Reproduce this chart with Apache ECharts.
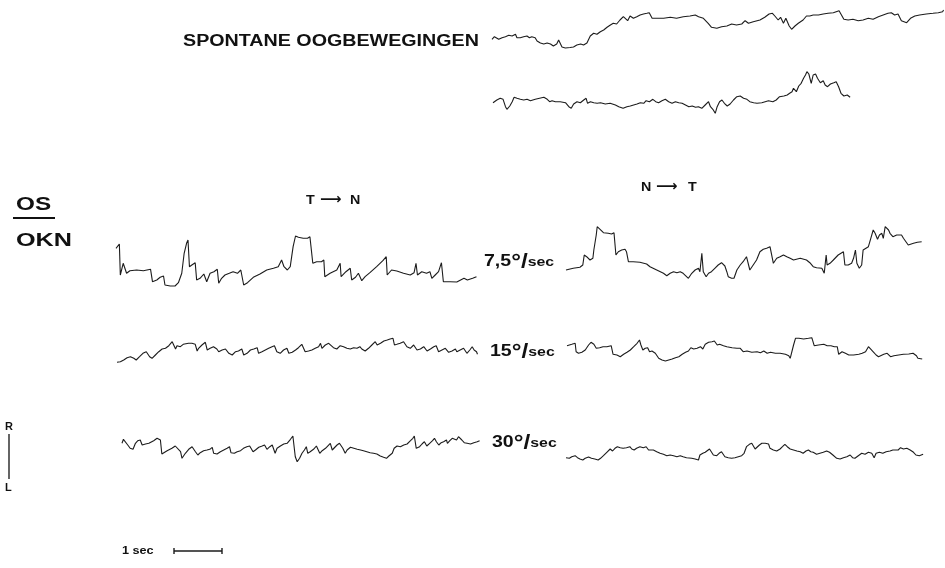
<!DOCTYPE html>
<html><head><meta charset="utf-8">
<script src="https://cdn.jsdelivr.net/npm/echarts@6/dist/echarts.min.js"></script>
<style>html,body{margin:0;padding:0;background:#fff}#c{width:945px;height:568px}</style>
</head><body><div id="c"></div>
<script>
// time in seconds, deflection in arbitrary units (up = R)
const SPONTAAN_1 = [[0,10.7],[0.05,13.3],[0.09,11.3],[0.14,10.7],[0.21,12.3],[0.28,13.3],[0.35,14.7],[0.42,14],[0.49,15.7],[0.52,12.3],[0.59,12.3],[0.66,13.3],[0.73,14],[0.78,12.3],[0.83,13.3],[0.9,12.3],[0.94,9],[1.01,7],[1.08,6],[1.15,7],[1.22,6],[1.28,4],[1.35,6],[1.39,10],[1.42,7],[1.46,3],[1.53,2],[1.63,2.5],[1.7,3],[1.77,5],[1.81,3],[1.85,6],[1.91,5],[1.98,7],[2.05,14],[2.12,16.7],[2.19,15.7],[2.26,18.3],[2.33,20],[2.4,22.7],[2.47,25],[2.53,26.7],[2.6,26],[2.67,30],[2.74,33.3],[2.78,31.7],[2.83,29.3],[2.88,34],[2.95,31.7],[3.02,33.3],[3.09,35],[3.16,36],[3.23,36.7],[3.28,37.3],[3.31,38.3],[3.34,31.7],[3.44,31.7],[3.58,31.7],[3.72,32.7],[3.85,31.7],[3.99,33.3],[4.13,34],[4.24,35],[4.31,33.3],[4.41,31.7],[4.51,26.7],[4.58,22.7],[4.69,21.7],[4.79,23.3],[4.9,24],[5.0,26],[5.1,25],[5.21,26],[5.28,29.3],[5.35,26.7],[5.45,28.3],[5.59,30],[5.69,32.7],[5.78,36],[5.85,36.7],[5.9,34],[5.97,30],[6.02,32.7],[6.08,26.7],[6.13,31.7],[6.2,24],[6.25,20.7],[6.32,24],[6.39,26.7],[6.49,30],[6.56,34],[6.63,34],[6.7,35],[6.81,35],[6.91,36],[7.01,36.7],[7.12,37.3],[7.24,39.3],[7.29,35],[7.34,30.7],[7.43,30],[7.53,30.7],[7.64,29.3],[7.74,30],[7.85,31.7],[7.95,30.7],[8.06,33.3],[8.16,35],[8.26,36.7],[8.33,37.3],[8.4,35],[8.47,36],[8.54,29.3],[8.65,27.3],[8.73,31.7],[8.82,34],[8.92,35],[9.06,36],[9.2,36.7],[9.31,37.3],[9.4,38.3],[9.42,40]];
const SPONTAAN_2 = [[0,17.3],[0.08,20],[0.15,21.7],[0.21,20.7],[0.26,13.3],[0.29,10.7],[0.35,14],[0.4,18.3],[0.44,22.7],[0.5,21.7],[0.57,20.7],[0.64,20],[0.71,20.7],[0.78,19.3],[0.88,20.7],[0.97,21.7],[1.06,22.7],[1.13,20.7],[1.18,18.3],[1.23,19.3],[1.3,18.3],[1.4,18.3],[1.51,17.3],[1.58,13.3],[1.63,11.7],[1.68,16],[1.75,18.3],[1.82,17.3],[1.89,20],[1.94,21.7],[1.97,16.7],[2.03,18.3],[2.1,17.3],[2.17,16.7],[2.24,17.3],[2.34,16],[2.44,16.7],[2.55,15],[2.62,13.3],[2.71,11.7],[2.79,13.3],[2.86,14],[2.93,15],[3.0,16],[3.07,17.3],[3.14,16.7],[3.19,19.3],[3.26,18.3],[3.33,20.7],[3.36,22.7],[3.39,18.3],[3.45,17.3],[3.52,19.3],[3.59,20.7],[3.66,18.3],[3.73,16.7],[3.8,18.3],[3.87,17.3],[3.94,16.7],[4.01,15],[4.08,13.3],[4.15,14],[4.22,12.7],[4.28,13.3],[4.35,11.7],[4.42,15],[4.49,18.3],[4.53,13.3],[4.58,10.7],[4.63,6.7],[4.67,13.3],[4.72,18.3],[4.77,20],[4.82,16.7],[4.88,14],[4.94,16],[5.01,20],[5.08,23.3],[5.15,24],[5.22,21.7],[5.29,20.7],[5.35,18.3],[5.43,17.3],[5.5,16.7],[5.6,17.3],[5.67,18.3],[5.74,19.3],[5.83,18.3],[5.9,20],[5.97,23.3],[6.06,24],[6.13,25],[6.18,26.7],[6.23,28.3],[6.26,31.7],[6.32,28.3],[6.37,34],[6.42,36.7],[6.47,41.7],[6.51,45],[6.54,48.3],[6.58,46],[6.63,36.7],[6.67,45],[6.72,46],[6.76,41.7],[6.82,37.3],[6.88,39.3],[6.92,35],[6.97,33.3],[7.03,36],[7.1,37.3],[7.15,38.3],[7.2,33.3],[7.25,26.7],[7.31,24],[7.38,25],[7.44,22.7]];
const TN_7_5 = [[0,41.7],[0.07,46],[0.09,15],[0.15,26.7],[0.22,16.7],[0.29,19.3],[0.43,20],[0.57,19.3],[0.72,20.7],[0.76,8.3],[0.85,10],[0.92,12.7],[0.99,14],[1.02,5],[1.13,4],[1.23,4],[1.3,7.3],[1.37,16.7],[1.42,36.7],[1.47,46.7],[1.5,50],[1.53,23.3],[1.58,25],[1.65,27.3],[1.68,10],[1.75,11.7],[1.83,16],[1.89,8.3],[1.96,16.7],[2.04,18.3],[2.11,20.7],[2.14,6.7],[2.2,11.7],[2.27,15],[2.36,16.7],[2.44,18.3],[2.53,16.7],[2.6,20],[2.63,19],[2.66,5],[2.74,7.3],[2.86,12.7],[3.0,16],[3.14,20],[3.28,21.7],[3.38,23.3],[3.45,30],[3.5,23.3],[3.57,20],[3.63,23.3],[3.66,33.3],[3.69,43.3],[3.74,54],[3.8,52.7],[3.9,51.7],[3.99,51.7],[4.04,53.3],[4.08,51.7],[4.1,26.7],[4.18,28.3],[4.28,28.3],[4.33,30],[4.35,13.3],[4.46,16.7],[4.6,20],[4.67,26.7],[4.69,13.3],[4.79,18.3],[4.88,21.7],[4.91,10],[4.99,12.7],[5.05,16.7],[5.08,18.3],[5.12,9.3],[5.19,13.3],[5.29,17.3],[5.43,23.3],[5.56,29.3],[5.63,33.3],[5.65,15],[5.74,20],[5.85,19],[5.99,16.7],[6.13,15],[6.21,17.3],[6.25,26.7],[6.28,15],[6.37,18.3],[6.47,16.7],[6.54,18.3],[6.58,11.7],[6.65,15],[6.72,18.3],[6.78,27.3],[6.82,8.3],[6.96,8.3],[7.1,8],[7.18,10],[7.25,11.7],[7.32,10],[7.43,11.7],[7.51,13.3]];
const NT_7_5 = [[0,20],[0.15,21.7],[0.29,22.7],[0.35,25],[0.38,35],[0.43,33.3],[0.5,30],[0.56,31.7],[0.58,40],[0.63,55],[0.65,63.3],[0.71,60.7],[0.78,57.3],[0.88,56.7],[0.95,56],[1.0,57.3],[1.04,35],[1.09,38.3],[1.16,40],[1.23,40.7],[1.26,38.3],[1.3,28.3],[1.4,28.3],[1.54,27.7],[1.68,26],[1.75,23.3],[1.89,20],[2.03,16.7],[2.1,14.3],[2.17,16.7],[2.24,18.3],[2.31,17.3],[2.38,18.3],[2.44,16.7],[2.55,11.7],[2.62,16.7],[2.69,20],[2.76,21.7],[2.79,18.3],[2.83,36.7],[2.86,18.3],[2.92,13.3],[2.97,16.7],[3.03,18.3],[3.1,21.7],[3.17,25],[3.24,27.3],[3.31,24],[3.35,18.3],[3.38,13.3],[3.45,11.7],[3.5,11.7],[3.56,20],[3.63,25],[3.69,28.3],[3.76,33.3],[3.8,35],[3.83,20],[3.9,25],[3.97,30],[4.04,38.3],[4.11,40.7],[4.18,41.7],[4.25,43.3],[4.28,42.7],[4.32,26.7],[4.39,31.7],[4.46,33.3],[4.53,35],[4.6,33.3],[4.67,31.7],[4.74,30],[4.88,31.7],[5.01,30],[5.08,27.3],[5.15,23.3],[5.22,22.3],[5.33,21.7],[5.38,16.7],[5.42,35],[5.44,25],[5.5,26.7],[5.57,30],[5.67,35],[5.78,38.3],[5.81,25],[5.88,25],[5.95,26.7],[5.99,31.7],[6.03,40],[6.06,26.7],[6.11,21.7],[6.16,25],[6.19,40],[6.23,41.7],[6.3,43.3],[6.35,51.7],[6.4,60],[6.44,56.7],[6.49,50.7],[6.53,55],[6.58,56.7],[6.61,51.7],[6.65,63.3],[6.72,60],[6.75,56.7],[6.81,53.3],[6.89,55],[6.99,55],[7.03,51.7],[7.13,45],[7.24,46.7],[7.32,47.7],[7.41,48.3]];
const TN_15 = [[0,7.7],[0.07,8.3],[0.14,10],[0.21,12.3],[0.28,13.3],[0.35,11.7],[0.4,10],[0.47,13.3],[0.54,16.7],[0.61,18.3],[0.68,13.3],[0.73,11.7],[0.8,15],[0.87,18.3],[0.94,21],[1.01,21.7],[1.08,24.3],[1.15,28.3],[1.18,26.7],[1.22,21],[1.25,24.3],[1.32,23.3],[1.38,25.7],[1.42,25],[1.49,26.7],[1.56,26.7],[1.63,25.7],[1.67,19],[1.7,21.7],[1.77,25],[1.81,26.7],[1.84,27.7],[1.88,20],[1.94,21.7],[2.01,23.3],[2.08,21],[2.12,18.3],[2.19,20],[2.26,21],[2.33,16.7],[2.4,15],[2.47,18.3],[2.53,19],[2.6,21],[2.64,15],[2.71,16.7],[2.78,20],[2.85,21],[2.92,22.3],[2.95,16.7],[3.02,18.3],[3.09,20],[3.16,21.7],[3.23,23.3],[3.28,24.3],[3.33,18.3],[3.4,16.7],[3.47,20],[3.54,21.7],[3.58,16.7],[3.65,17.7],[3.72,20],[3.78,22.3],[3.85,25.7],[3.89,25],[3.92,18.3],[3.99,19],[4.06,20],[4.13,21.7],[4.2,23.3],[4.24,26.7],[4.27,21.7],[4.34,25],[4.41,26.7],[4.44,25],[4.51,22.3],[4.58,21],[4.65,24.3],[4.72,23.3],[4.79,21.7],[4.86,21],[4.93,22.3],[5.0,21.7],[5.06,23.3],[5.1,21],[5.17,19],[5.24,21.7],[5.31,25],[5.38,28.3],[5.42,25],[5.49,26.7],[5.56,29],[5.63,30],[5.69,31],[5.75,31.7],[5.78,25],[5.83,25.7],[5.9,26.7],[5.97,28.3],[6.01,29],[6.04,23.3],[6.11,21.7],[6.18,25],[6.22,26.7],[6.25,20],[6.32,21],[6.39,23.3],[6.42,24.3],[6.46,19],[6.53,21],[6.6,23.3],[6.65,24.3],[6.7,18.3],[6.77,20],[6.84,21.7],[6.88,22.3],[6.91,17.7],[6.98,19],[7.05,21],[7.08,18.3],[7.15,20],[7.22,21.7],[7.29,16.7],[7.35,20],[7.4,23.3],[7.42,25],[7.44,20],[7.49,18.3],[7.51,15.7]];
const NT_15 = [[0,24.3],[0.1,25.7],[0.17,26.7],[0.19,18.3],[0.24,16.7],[0.31,17.7],[0.38,20],[0.45,25],[0.5,27.7],[0.56,25.7],[0.61,21.7],[0.68,22.3],[0.75,23.3],[0.83,23.3],[0.92,24.3],[0.96,15.7],[1.04,15],[1.11,13.3],[1.18,15.7],[1.25,17.7],[1.32,20],[1.39,23.3],[1.46,26.7],[1.51,30],[1.54,25],[1.58,20],[1.63,21.7],[1.68,22.3],[1.72,18.3],[1.77,19],[1.84,16.7],[1.88,15],[1.91,11.7],[1.98,10],[2.05,9],[2.12,10],[2.19,11],[2.26,12.3],[2.33,13.3],[2.4,15.7],[2.47,17.7],[2.53,19],[2.58,22.3],[2.64,21],[2.71,21.7],[2.78,23.3],[2.83,21],[2.88,25.7],[2.95,27.7],[3.02,28.3],[3.07,29],[3.13,25],[3.18,25.7],[3.26,24.3],[3.33,23.3],[3.44,22.3],[3.54,21.7],[3.61,21.7],[3.67,18.3],[3.75,19],[3.85,17.7],[3.96,18.3],[4.03,17.3],[4.1,19],[4.17,16.7],[4.24,17.7],[4.34,16.7],[4.44,16.7],[4.55,15.7],[4.62,14.3],[4.65,11.7],[4.69,13.3],[4.72,25],[4.76,31.7],[4.83,31.7],[4.93,31],[5.03,31.7],[5.1,32.3],[5.15,24.3],[5.24,25],[5.35,25.7],[5.42,24.3],[5.5,24.3],[5.57,23.3],[5.63,23.3],[5.66,15.7],[5.73,18.3],[5.8,16.7],[5.87,15],[5.97,15],[6.08,15.7],[6.15,16.7],[6.22,18.3],[6.28,23.3],[6.32,21.7],[6.39,17.7],[6.44,15],[6.49,13.3],[6.53,14.3],[6.6,15.7],[6.67,16.7],[6.74,13.3],[6.81,14.3],[6.91,15],[7.01,15.7],[7.12,16],[7.21,16.7],[7.28,14.3],[7.31,11.7],[7.4,11]];
const TN_30 = [[0,26.7],[0.03,30.7],[0.07,31.7],[0.12,25],[0.17,21.7],[0.23,20.7],[0.28,26.7],[0.33,29.3],[0.38,30],[0.42,25],[0.49,26],[0.56,26.7],[0.6,28.3],[0.66,29.3],[0.73,31.7],[0.76,32.7],[0.8,30],[0.83,16],[0.94,19.3],[1.04,21.7],[1.11,24],[1.15,24],[1.22,18.3],[1.25,11.7],[1.32,16.7],[1.39,20.7],[1.46,23.3],[1.49,25],[1.53,18.3],[1.58,15],[1.63,17.3],[1.7,19.3],[1.77,20],[1.83,20.7],[1.88,22.7],[1.91,16.7],[1.98,16],[2.05,18.3],[2.12,20],[2.19,21.7],[2.24,23.3],[2.27,17.3],[2.34,16.7],[2.4,18.3],[2.47,19.3],[2.53,21.7],[2.6,23.3],[2.66,24],[2.69,25],[2.73,18.3],[2.78,20],[2.85,22.7],[2.92,24],[2.97,25],[3.02,20.7],[3.08,23.3],[3.13,25],[3.16,26],[3.19,16.7],[3.23,21.7],[3.3,24],[3.37,26],[3.44,26.7],[3.51,30.7],[3.56,34],[3.59,35],[3.61,13.3],[3.65,8.3],[3.7,11.7],[3.75,16.7],[3.8,20],[3.84,23.3],[3.87,16.7],[3.92,18.3],[3.99,20.7],[4.05,24],[4.09,26],[4.12,16.7],[4.17,19.3],[4.24,21.7],[4.28,23.3],[4.34,26.7],[4.38,20],[4.42,21.7],[4.48,25],[4.53,26.7],[4.56,27.3],[4.6,21.7],[4.65,16.7],[4.69,20],[4.76,22.7],[4.83,21.7],[4.9,20.7],[4.97,20],[5.03,19.3],[5.1,18.3],[5.17,17.3],[5.24,16.7],[5.31,16],[5.38,14],[5.45,12.7],[5.51,11.7],[5.56,14],[5.63,16.7],[5.67,21.7],[5.73,24],[5.77,26],[5.8,23.3],[5.87,25],[5.94,26],[6.01,29.3],[6.06,31.7],[6.09,34],[6.13,21.7],[6.2,23.3],[6.25,26],[6.3,28.3],[6.32,26.7],[6.35,24],[6.41,26.7],[6.47,29.3],[6.51,31.7],[6.55,28.3],[6.6,25],[6.65,27.3],[6.7,28.3],[6.76,30],[6.78,26.7],[6.83,29.3],[6.88,31.7],[6.91,33.3],[6.97,30],[7.01,33.3],[7.05,35],[7.08,30],[7.13,27.3],[7.19,26.7],[7.26,26],[7.33,27.3],[7.4,28.3],[7.45,29.3]];
const NT_30 = [[0,12.3],[0.07,11.7],[0.12,13.3],[0.19,14.3],[0.24,12.3],[0.29,11],[0.35,10],[0.4,11.7],[0.47,13],[0.53,11.7],[0.6,11],[0.67,10],[0.72,11.7],[0.78,14.3],[0.85,17.7],[0.92,21],[0.97,19],[1.02,21.7],[1.07,23.3],[1.13,22.3],[1.19,21.7],[1.26,22.3],[1.33,23.3],[1.37,21],[1.42,20],[1.47,21.7],[1.54,23.3],[1.61,22.3],[1.67,23.3],[1.72,20],[1.76,19],[1.82,20],[1.89,18.3],[1.96,16.7],[2.03,15.7],[2.1,14.3],[2.17,15],[2.24,14.3],[2.31,13.3],[2.38,14.3],[2.44,13.3],[2.51,12.3],[2.62,11.7],[2.69,11],[2.76,10],[2.79,15],[2.85,16.7],[2.9,17.7],[2.94,19],[2.99,21],[3.03,20],[3.07,15],[3.14,14.3],[3.19,16.7],[3.24,18.3],[3.28,17.7],[3.31,13.3],[3.38,12.3],[3.45,11.7],[3.52,12.3],[3.59,13.3],[3.66,14.3],[3.71,16.7],[3.76,23.3],[3.82,25.7],[3.87,26.7],[3.9,25],[3.94,21],[3.97,21.7],[4.03,25],[4.08,26.7],[4.15,26.7],[4.22,26],[4.25,21.7],[4.32,20],[4.39,19],[4.46,21],[4.51,23.3],[4.56,25.7],[4.61,23.3],[4.67,21],[4.74,20],[4.81,19],[4.88,18.3],[4.94,16.7],[5.0,19],[5.05,20],[5.1,18.3],[5.15,17.7],[5.22,15.7],[5.29,16.7],[5.36,17.7],[5.43,19],[5.49,17.7],[5.56,15],[5.64,11.7],[5.71,11],[5.78,12.3],[5.85,13.3],[5.92,15],[5.97,12.3],[6.02,11.7],[6.09,14.3],[6.16,16.7],[6.23,15.7],[6.3,17.7],[6.37,16.7],[6.42,12.3],[6.46,16.7],[6.53,17.7],[6.6,16.7],[6.67,18.3],[6.75,19],[6.81,20],[6.85,18.3],[6.92,20],[6.97,22.3],[7.03,21],[7.1,21.7],[7.17,20],[7.24,17.7],[7.29,15],[7.36,14.3],[7.44,15.7]];
const TIME_BAR = [[0,-1],[0,1],[0,0],[1,0],[1,1],[1,-1]]; // 1 sec
const SPEED_LABELS = ['7,5', '15', '30'];

// layout (paper speed 48 px per second)
const PX_PER_SEC = 48;
const panels = [
  {data: SPONTAAN_1, left: 492, top: 0,   h: 50, dur: 9.45},
  {data: SPONTAAN_2, left: 493, top: 60,  h: 60, dur: 7.5},
  {data: TN_7_5,     left: 116, top: 220, h: 70, dur: 7.6},
  {data: NT_7_5,     left: 566, top: 210, h: 80, dur: 7.5},
  {data: TN_15,      left: 117, top: 325, h: 45, dur: 7.6},
  {data: NT_15,      left: 567, top: 325, h: 45, dur: 7.5},
  {data: TN_30,      left: 122, top: 420, h: 50, dur: 7.5},
  {data: NT_30,      left: 566, top: 425, h: 45, dur: 7.5},
  {data: TIME_BAR,   left: 174, top: 548, h: 6,  dur: 1, ymin: -1, ymax: 1, w: 1.4}
];

const chart = echarts.init(document.getElementById('c'), null, {renderer: 'canvas'});
const grid = [], xAxis = [], yAxis = [], series = [];
panels.forEach((p, i) => {
  grid.push({left: p.left, top: p.top, width: p.dur * PX_PER_SEC, height: p.h, containLabel: false});
  xAxis.push({type: 'value', gridIndex: i, min: 0, max: p.dur, show: false});
  yAxis.push({type: 'value', gridIndex: i, min: p.ymin !== undefined ? p.ymin : 0, max: p.ymax !== undefined ? p.ymax : p.h, show: false});
  series.push({type: 'line', xAxisIndex: i, yAxisIndex: i, data: p.data, showSymbol: false, clip: false,
    lineStyle: {color: '#1c1c1c', width: p.w || 1.1}, silent: true});
});

const FONT = '"Liberation Sans", Arial, sans-serif';
const ARROWF = '"DejaVu Sans", sans-serif';
function txt(x, y, text, size, sx, extra) {
  return Object.assign({type: 'text', x: x, y: y, scaleX: sx || 1, silent: true,
    style: {text: text, fill: '#111', font: 'bold ' + size + 'px ' + FONT, verticalAlign: 'middle'}}, extra || {});
}
function speed(x, y, v) {
  return {type: 'text', x: x, y: y, silent: true, scaleX: 1.22,
    style: {text: '{a|' + v + '}{b|°/}{c|sec}', verticalAlign: 'middle',
      rich: {a: {font: 'bold 16px ' + FONT, fill: '#111'},
             b: {font: 'bold 20px ' + FONT, fill: '#111'},
             c: {font: 'bold 13px ' + FONT, fill: '#111'}}}};
}
const graphic = [
  txt(183, 42, 'SPONTANE OOGBEWEGINGEN', 16, 1.23),
  txt(16, 205, 'OS', 18, 1.35),
  {type: 'line', silent: true, shape: {x1: 13, y1: 218, x2: 55, y2: 218}, style: {stroke: '#111', lineWidth: 2}},
  txt(16, 241, 'OKN', 18, 1.4),
  txt(306, 200, 'T', 13, 1.1),
  {type: 'text', x: 320, y: 200, silent: true, style: {text: '⟶', font: 'bold 15px ' + ARROWF, fill: '#111', verticalAlign: 'middle'}},
  txt(350, 200, 'N', 13, 1.1),
  txt(641, 187, 'N', 13, 1.1),
  {type: 'text', x: 656, y: 187, silent: true, style: {text: '⟶', font: 'bold 15px ' + ARROWF, fill: '#111', verticalAlign: 'middle'}},
  txt(688, 187, 'T', 13, 1.1),
  speed(484, 262, SPEED_LABELS[0]),
  speed(490, 352, SPEED_LABELS[1]),
  speed(492, 443, SPEED_LABELS[2]),
  txt(5, 427, 'R', 10, 1.1),
  {type: 'line', silent: true, shape: {x1: 9, y1: 434, x2: 9, y2: 479}, style: {stroke: '#111', lineWidth: 1.3}},
  txt(5, 488, 'L', 10, 1.1),
  txt(122, 551, '1 sec', 11, 1.15)
];

chart.setOption({animation: false, backgroundColor: '#fff', grid, xAxis, yAxis, series, graphic});
</script>
</body></html>
